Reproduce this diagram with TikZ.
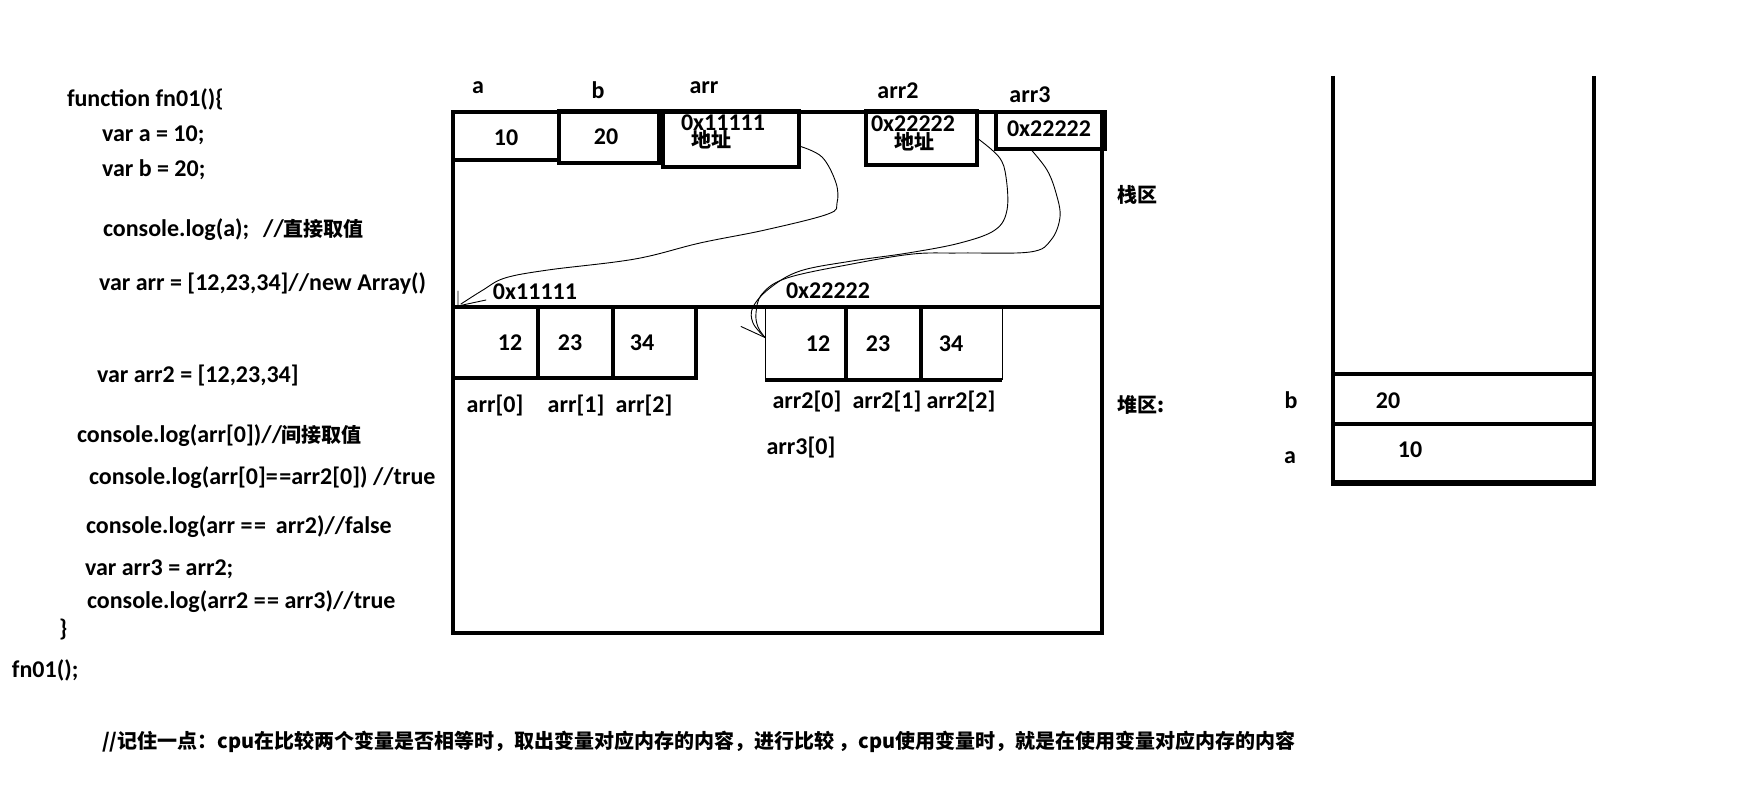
\documentclass[tikz,border=0pt]{standalone}
\usepackage{fontspec}
\setmainfont{Carlito}
\newfontfamily\cjk{Noto Sans CJK SC}
\newcommand\enf{\fontsize{24}{28}\selectfont\bfseries}
\newcommand\zhf{\cjk\fontsize{20}{24}\selectfont\bfseries}
\newcommand\eqq{=\kern1.5pt=}
\begin{document}
\begin{tikzpicture}[x=1pt,y=-1pt,
  every node/.style={inner sep=0pt,outer sep=0pt},
  txt/.style={font=\enf},
  zh/.style={font=\zhf},
  heavy/.style={line width=4pt},
  cellbox/.style={draw,line width=4pt},
  ghost/.style={draw=none},
  wire/.style={line width=0.9pt,line cap=round,line join=round}]
\useasboundingbox (0,0) rectangle (1749,794);
\fill[white] (0,0) rectangle (1749,794);

% ---- code text ----
\node[txt,anchor=base west] (l1) at (67,107) {function fn01()\{};
\node[txt,anchor=base west] (l2) at (102,142) {var a = 10;};
\node[txt,anchor=base west] (l3) at (102,177) {var b = 20;};
\node[txt,anchor=base west] (l4) at (103,237) {console.log(a);\hspace*{14pt}//{\zhf 直接取值}};
\node[txt,anchor=base west] (l5) at (99,291) {var arr = [12,23,34]//new Array()};
\node[txt,anchor=base west] (l6) at (97,382) {var arr2 = [12,23,34]};
\node[txt,anchor=base west] (l7) at (77,442) {console.log(arr[0])//{\zhf 间接取值}};
\node[txt,anchor=base west] (l8) at (89,484) {console.log(arr[0]\eqq arr2[0]) //true};
\node[txt,anchor=base west] (l9) at (86,533) {console.log(arr \eqq\hspace*{10pt}arr2)//false};
\node[txt,anchor=base west] (l10) at (85,575) {var arr3 = arr2;};
\node[txt,anchor=base west] (l11) at (87,608) {console.log(arr2 \eqq{} arr3)//true};
\node[txt,anchor=base west] (l12) at (59,636) {\}};
\node[txt,anchor=base west] (l13) at (12,677) {fn01();};
\node[zh,anchor=base west] (l14) at (102,748) {//记住一点：cpu在比较两个变量是否相等时，取出变量对应内存的内容，进行比较 ，cpu使用变量时，就是在使用变量对应内存的内容};

% ---- memory box ----
\node[cellbox,minimum width=649,minimum height=521] (mem) at (777.5,372.5) {};
\draw[heavy] (453,307) -- (1102,307);

% stack cells
\node[cellbox,minimum width=106,minimum height=48] (c10) at (506,136) {};
\node[cellbox,minimum width=100,minimum height=52] (c20) at (609,137) {};
\node[cellbox,minimum width=136,minimum height=56] (carr) at (731,139) {};
\node[cellbox,minimum width=111,minimum height=54] (carr2) at (921.5,138) {};
\node[cellbox,minimum width=109,minimum height=37] (carr3) at (1050.5,130.5) {};

% labels above
\node[txt,anchor=base] (la) at (478,94) {a};
\node[txt,anchor=base] (lb) at (598,99) {b};
\node[txt,anchor=base] (larr) at (704,94) {arr};
\node[txt,anchor=base] (larr2) at (898,99) {arr2};
\node[txt,anchor=base] (larr3) at (1030,103) {arr3};

% cell contents
\node[txt,anchor=base] (v10) at (506,146) {10};
\node[txt,anchor=base] (v20) at (606,145) {20};
\node[txt,anchor=base] (vp1) at (723,131) {0x11111};
\node[zh,anchor=base] (vd1) at (711,148) {地址};
\node[txt,anchor=base] (vp2) at (913,132) {0x22222};
\node[zh,anchor=base] (vd2) at (914,150) {地址};
\node[txt,anchor=base] (vp3) at (1049,137) {0x22222};

% region labels
\node[zh,anchor=base west] (zhan) at (1117,203) {栈区};
\node[zh,anchor=base west] (dui) at (1117,412) {堆区:};

% ---- heap arrays ----
\node[cellbox,minimum width=85,minimum height=71] (h1a) at (495.5,342.5) {};
\node[cellbox,minimum width=75,minimum height=71] (h1b) at (575.5,342.5) {};
\node[cellbox,minimum width=83,minimum height=71] (h1c) at (654.5,342.5) {};
\node[txt,anchor=base] (t1a) at (510,351) {12};
\node[txt,anchor=base] (t1b) at (570,351) {23};
\node[txt,anchor=base] (t1c) at (642,351) {34};
\node[txt,anchor=base] (i1a) at (495,413) {arr[0]};
\node[txt,anchor=base] (i1b) at (576,413) {arr[1]};
\node[txt,anchor=base] (i1c) at (644,413) {arr[2]};
\node[txt,anchor=base] (hp1) at (535,300) {0x11111};

\node[ghost,minimum width=81,minimum height=73] (h2a) at (805.5,343.5) {};
\node[ghost,minimum width=75,minimum height=73] (h2b) at (883.5,343.5) {};
\node[ghost,minimum width=81,minimum height=73] (h2c) at (961.5,343.5) {};
\draw[line width=1pt] (h2a.north west) -- (h2a.south west);
\draw[line width=1pt] (h2c.north east) -- (h2c.south east);
\draw[heavy] (h2a.south west) -- (h2c.south east);
\draw[heavy] (h2a.north east) -- (h2a.south east);
\draw[heavy] (h2b.north east) -- (h2b.south east);
\node[txt,anchor=base] (t2a) at (818,352) {12};
\node[txt,anchor=base] (t2b) at (878,352) {23};
\node[txt,anchor=base] (t2c) at (951,352) {34};
\node[txt,anchor=base] (i2a) at (807,408) {arr2[0]};
\node[txt,anchor=base] (i2b) at (887,408) {arr2[1]};
\node[txt,anchor=base] (i2c) at (961,408) {arr2[2]};
\node[txt,anchor=base] (i3a) at (801,454) {arr3[0]};
\node[txt,anchor=base] (hp2) at (828,299) {0x22222};

% ---- pointer curves ----
\draw[wire] plot[smooth,tension=0.6] coordinates {([yshift=-7pt]carr.east) (822,157) (836,183) (837,203) (828,214) (765,230) (700,243) (635,259) (548,270) (505,278) (483,290) ([xshift=8pt,yshift=3pt]h1a.north west)};
\draw[wire] ([xshift=5pt,yshift=16pt]h1a.north west) -- ([xshift=5pt,yshift=1pt]h1a.north west) -- ([xshift=33pt,yshift=7pt]h1a.north west);

\draw[wire] plot[smooth,tension=0.6] coordinates {(carr2.east) (999,157) (1006,177) (1007,210) (995,230) (960,243) (908,253) (852,261) (800,271) (770,288) (753,307) (753,323) ([yshift=6pt]h2a.west)};
\draw[wire] plot[smooth,tension=0.6] coordinates {([xshift=-20pt]carr3.south) (1047,170) (1056,193) (1060,217) (1051,240) (1030,252) (960,253) (913,254) (852,264) (787,278) (762,294) (756,313) (758,327) ([yshift=6pt]h2a.west)};
\draw[wire] ([xshift=-24pt,yshift=17pt]h2a.west) -- ([yshift=6pt]h2a.west);

% ---- call stack ----
\node[ghost,minimum width=261,minimum height=408] (stk) at (1463.5,280) {};
\draw[heavy] (stk.north west) -- (stk.south west) -- (stk.south east) -- (stk.north east);
\node[cellbox,minimum width=261,minimum height=50] (sb) at (1463.5,399) {};
\node[cellbox,minimum width=261,minimum height=58] (sa) at (1463.5,453) {};
\node[txt,anchor=base] (sbl) at (1291,408) {b};
\node[txt,anchor=base] (sal) at (1290,463) {a};
\node[txt,anchor=base] (sbv) at (1388,408) {20};
\node[txt,anchor=base] (sav) at (1410,457) {10};
\end{tikzpicture}
\end{document}
